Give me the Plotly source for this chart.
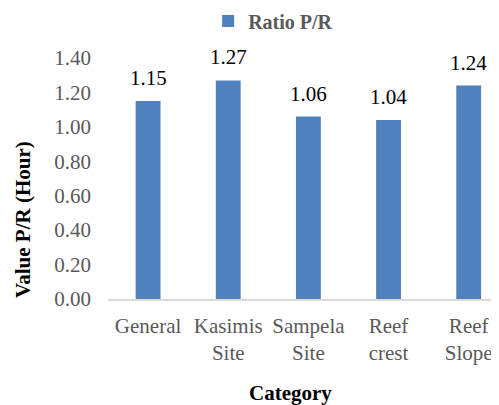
import plotly.graph_objects as go

categories = ["General", "Kasimis<br>Site", "Sampela<br>Site", "Reef<br>crest", "Reef<br>Slope"]
values = [1.15, 1.27, 1.06, 1.04, 1.24]
series_name = "Ratio P/R"
y_ticks = [0.0, 0.2, 0.4, 0.6, 0.8, 1.0, 1.2, 1.4]

FONT = "Liberation Serif"
GRAY = "#595959"
BLUE = "#4f81bd"
FS = 21

fig = go.Figure()
fig.add_trace(go.Bar(
    x=list(range(len(categories))), y=values, name=series_name,
    marker=dict(color=BLUE, line=dict(width=0)),
    width=0.31,
))
for i, v in enumerate(values):
    fig.add_annotation(x=i, y=v, xref="x", yref="y", text=f"{v:.2f}",
                       showarrow=False, yanchor="bottom", yshift=9,
                       font=dict(family=FONT, size=FS, color="#000000"))

fig.add_annotation(x=-0.216, y=0.33, xref="paper", yref="paper",
                   text="<b>Value P/R (Hour)</b>", textangle=-90, showarrow=False,
                   xanchor="center", yanchor="middle",
                   font=dict(family=FONT, size=FS, color="#000000"))
fig.add_annotation(x=0.466, y=-0.388, xref="paper", yref="paper",
                   text="<b>Category</b>", showarrow=False,
                   xanchor="center", yanchor="middle",
                   font=dict(family=FONT, size=FS, color="#000000"))

fig.update_layout(
    width=491, height=397,
    margin=dict(l=99.5, r=0, t=50, b=106, autoexpand=False),
    paper_bgcolor="white", plot_bgcolor="white",
    font=dict(family=FONT, size=FS, color=GRAY),
    showlegend=True,
    legend=dict(orientation="h", xref="container", yref="container",
                x=0.540, xanchor="center", y=0.967, yanchor="middle",
                font=dict(family=FONT, size=20, color=GRAY, weight="bold"),
                itemwidth=30),
)

fig.update_xaxes(
    range=[-0.5, 4.378],
    tickvals=list(range(len(categories))), ticktext=categories,
    showline=True, linecolor="#d9d9d9", linewidth=1.5,
    showgrid=False, ticks="", ticklabelstandoff=7,
    tickfont=dict(family=FONT, size=FS, color=GRAY),
)
fig.update_yaxes(
    range=[0, 1.4],
    tickvals=y_ticks, ticktext=[f"{v:.2f}" for v in y_ticks],
    showline=False, showgrid=False, zeroline=False, ticks="",
    ticklabelstandoff=16,
    tickfont=dict(family=FONT, size=FS, color=GRAY),
)

fig.write_html("out.html")
